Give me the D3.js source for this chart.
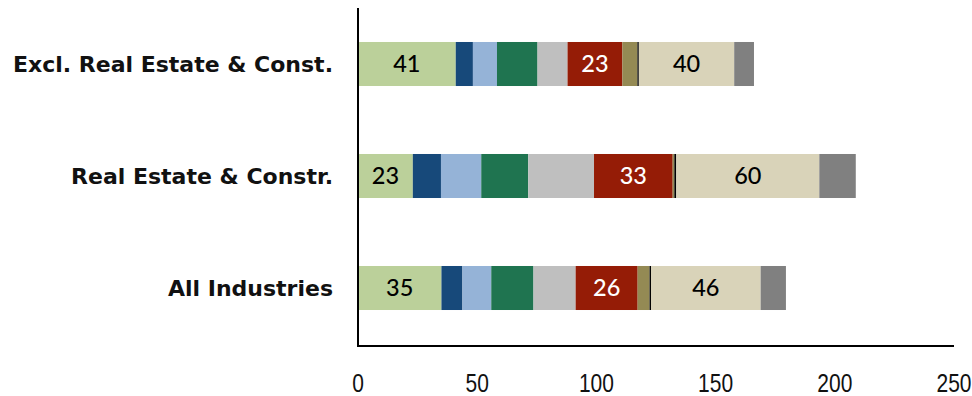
<!DOCTYPE html>
<html>
<head>
<meta charset="utf-8">
<script src="https://cdn.jsdelivr.net/npm/d3@7/dist/d3.min.js"></script>
<style>
  html, body { margin: 0; padding: 0; background: #fff; }
  svg { display: block; }
</style>
</head>
<body>
<svg id="chart" width="972" height="396"></svg>
<script>
// Categories, drawn top to bottom
const categories = ["Excl. Real Estate & Const.", "Real Estate & Constr.", "All Industries"];

// Stacked segment values, one array per segment, in category order
const seg1  = [41, 23, 35];        // light green (labelled)
const seg2  = [7.2, 11.8, 8.8];    // dark blue
const seg3  = [10.1, 16.9, 12.1];  // light blue
const seg4  = [17, 19.7, 17.7];    // dark green
const seg5  = [12.6, 27.6, 17.7];  // light grey
const seg6  = [23, 33, 26];        // dark red (labelled)
const seg7  = [6.3, 0.7, 5];       // olive
const seg8  = [0.6, 0.8, 0.6];     // black sliver
const seg9  = [40, 60, 46];        // beige (labelled)
const seg10 = [8.3, 15.3, 10.6];   // dark grey

const segments = [seg1, seg2, seg3, seg4, seg5, seg6, seg7, seg8, seg9, seg10];
const segColors = ["#BBD09A", "#17497A", "#95B3D7", "#1F7450", "#BFBFBF",
                   "#951C06", "#948A54", "#000000", "#D9D3B9", "#808080"];
// Segments whose values are printed, with their text colours
const labelledSegments = { 0: "#000", 5: "#fff", 8: "#000" };

// Axis tick labels
const xTicks = [0, 50, 100, 150, 200, 250];

const svg = d3.select("#chart");

const x = d3.scaleLinear().domain([0, 250]).range([358, 954]);
const y = d3.scaleBand().domain(categories).range([8, 344])
  .paddingInner(0.607).paddingOuter(0.3035);

// Build stack rows
const rows = categories.map((c, i) => {
  const r = { cat: c };
  segments.forEach((s, k) => { r["k" + k] = s[i]; });
  return r;
});
const keys = segments.map((s, k) => "k" + k);
const stacked = d3.stack().keys(keys)(rows);

const groups = svg.append("g").selectAll("g")
  .data(stacked).join("g")
  .attr("fill", (d, i) => segColors[i]);

groups.selectAll("rect")
  .data(d => d)
  .join("rect")
  .attr("x", d => x(d[0]))
  .attr("y", d => y(d.data.cat))
  .attr("width", d => x(d[1]) - x(d[0]))
  .attr("height", y.bandwidth());

// Value labels
stacked.forEach((layer, i) => {
  if (!(i in labelledSegments)) return;
  svg.append("g").selectAll("text")
    .data(layer).join("text")
    .attr("x", d => (x(d[0]) + x(d[1])) / 2)
    .attr("y", d => y(d.data.cat) + y.bandwidth() / 2)
    .attr("dy", "0.36em")
    .attr("text-anchor", "middle")
    .attr("font-family", "Lato, 'Open Sans', sans-serif")
    .attr("font-weight", 500)
    .attr("font-size", 23.5)
    .attr("fill", labelledSegments[i])
    .text(d => d3.format("d")(d[1] - d[0]));
});

// Category labels
svg.append("g").selectAll("text")
  .data(categories).join("text")
  .attr("x", 333)
  .attr("y", d => y(d) + y.bandwidth() / 2)
  .attr("dy", "0.36em")
  .attr("text-anchor", "end")
  .attr("font-family", "'DejaVu Sans', sans-serif")
  .attr("font-weight", "bold")
  .attr("font-size", 22)
  .attr("fill", "#111")
  .text(d => d);

// Axis lines
svg.append("line")
  .attr("x1", x(0)).attr("x2", x(0))
  .attr("y1", 8).attr("y2", 347)
  .attr("stroke", "#000").attr("stroke-width", 2);
svg.append("line")
  .attr("x1", x(0) - 1).attr("x2", x(250))
  .attr("y1", 346).attr("y2", 346)
  .attr("stroke", "#000").attr("stroke-width", 2);

// Tick labels, horizontally condensed
svg.append("g").selectAll("text")
  .data(xTicks).join("text")
  .attr("transform", d => `translate(${x(d)},392) scale(0.84,1)`)
  .attr("text-anchor", "middle")
  .attr("font-family", "'Liberation Sans', Arial, sans-serif")
  .attr("font-size", 25)
  .attr("fill", "#111")
  .text(d => d);
</script>
</body>
</html>
